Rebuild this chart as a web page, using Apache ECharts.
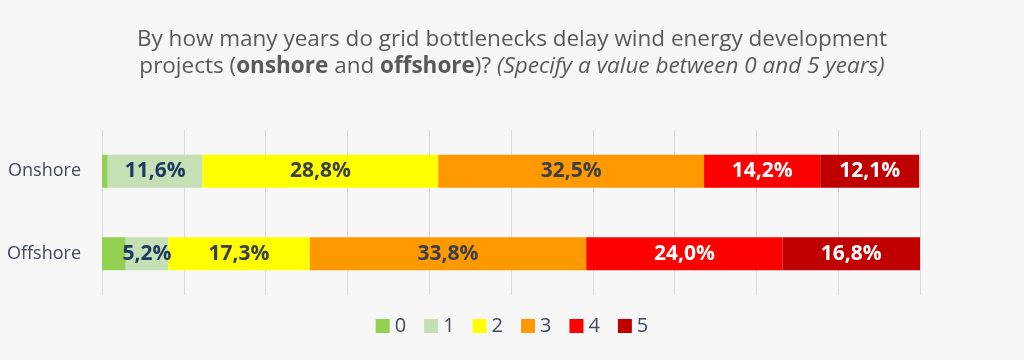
<!DOCTYPE html>
<html><head><meta charset="utf-8">
<script src="https://cdn.jsdelivr.net/npm/echarts@6/dist/echarts.min.js"></script>
<style>html,body{margin:0;padding:0;background:#f7f7f7}#c{width:1024px;height:360px}</style>
</head><body><div id="c"></div>
<script>
const categories = ['Onshore', 'Offshore'];
const seriesNames = ['0', '1', '2', '3', '4', '5'];
const v0 = [0.7, 2.9];
const v1 = [11.6, 5.2];
const v2 = [28.8, 17.3];
const v3 = [32.5, 33.8];
const v4 = [14.2, 24.0];
const v5 = [12.1, 16.8];
const values = [v0, v1, v2, v3, v4, v5];
const colors = ['#92d050', '#c5e0b4', '#ffff00', '#ff9900', '#ff0000', '#c00000'];
const labelColors = [null, '#1f3864', '#3b3f4b', '#3b3f4b', '#ffffff', '#ffffff'];
const FONT = '"Open Sans", sans-serif';

const chart = echarts.init(document.getElementById('c'));
chart.setOption({
  backgroundColor: '#f7f7f7',
  animation: false,
  title: {
    left: 'center', top: 21,
    text: '{n|By how many years do grid bottlenecks delay wind energy development}\n{n|projects (}{b|onshore}{n| and }{b|offshore}{n|)? }{i|(Specify a value between 0 and 5 years)}',
    textStyle: {
      fontFamily: FONT, fontWeight: 'normal',
      lineHeight: 27,
      rich: {
        n: {fontFamily: FONT, fontSize: 22.5, color: '#595959', fontWeight: 'normal', lineHeight: 27},
        b: {fontFamily: FONT, fontSize: 22.5, color: '#595959', fontWeight: 'bold', lineHeight: 27},
        i: {fontFamily: FONT, fontSize: 22.5, color: '#595959', fontWeight: 'normal', fontStyle: 'italic', lineHeight: 27}
      }
    }
  },
  legend: {
    bottom: 19, left: 'center',
    itemWidth: 14, itemHeight: 14, itemGap: 18,
    icon: 'rect',
    textStyle: {fontFamily: FONT, fontSize: 20, color: '#3f4a5c'},
    data: seriesNames
  },
  grid: {left: 102, right: 104, top: 130, bottom: 65, containLabel: false},
  xAxis: {
    type: 'value', min: 0, max: 100, interval: 10,
    axisLabel: {show: false}, axisLine: {show: false}, axisTick: {show: false},
    splitLine: {show: true, lineStyle: {color: '#d9d9d9', width: 1}}
  },
  yAxis: {
    type: 'category', inverse: true, data: categories,
    axisLine: {show: false}, axisTick: {show: false},
    axisLabel: {fontFamily: FONT, fontSize: 18, color: '#3f4a5c', margin: 21}
  },
  series: values.map((vals, i) => ({
    name: seriesNames[i], type: 'bar', stack: 'all', data: vals,
    barWidth: 33,
    itemStyle: {color: colors[i]},
    label: {
      show: i > 0, position: 'inside',
      fontFamily: FONT, fontSize: 21, fontWeight: 'bold',
      color: labelColors[i] || '#000',
      formatter: p => p.value.toFixed(1).replace('.', ',') + '%'
    }
  }))
});
</script></body></html>
